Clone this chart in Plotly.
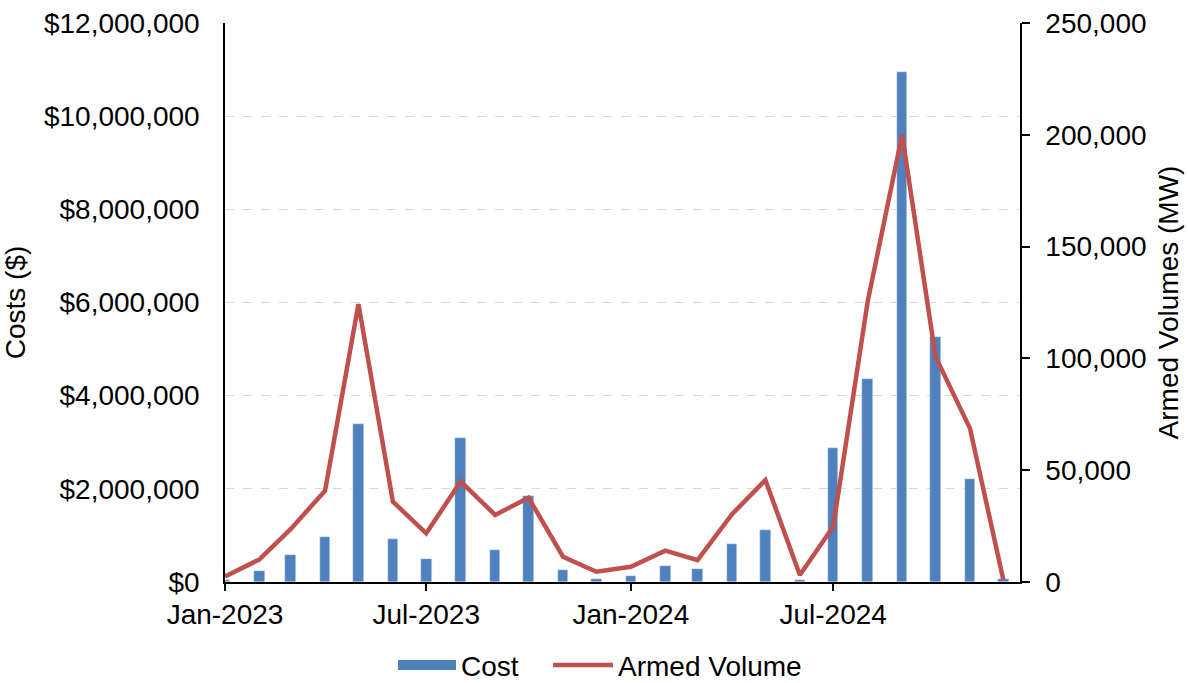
import plotly.graph_objects as go

months = ["2023-01-01","2023-02-01","2023-03-01","2023-04-01","2023-05-01","2023-06-01",
          "2023-07-01","2023-08-01","2023-09-01","2023-10-01","2023-11-01","2023-12-01",
          "2024-01-01","2024-02-01","2024-03-01","2024-04-01","2024-05-01","2024-06-01",
          "2024-07-01","2024-08-01","2024-09-01","2024-10-01","2024-11-01","2024-12-01"]
cost = [40000, 240000, 580000, 960000, 3390000, 920000,
        490000, 3100000, 690000, 1840000, 260000, 70000,
        130000, 340000, 270000, 820000, 1120000, 40000,
        2870000, 4360000, 10950000, 5270000, 2220000, 60000]
armed_volume = [2500, 10100, 23600, 40800, 124300, 35900,
                21800, 44900, 30000, 37700, 11300, 4600,
                6800, 14000, 9800, 30300, 45600, 3100,
                24700, 125400, 200000, 100800, 68700, 1000]

font_family = "Liberation Sans, Arial, sans-serif"
FS = 28
BAR_COLOR = "#4F81BD"
LINE_COLOR = "#C0504D"

fig = go.Figure()
fig.add_trace(go.Bar(x=months, y=cost, name="Cost", marker_color=BAR_COLOR,
                     width=9.5 * 86400000, yaxis="y", showlegend=False))
# legend-only entry giving a wide rectangular swatch for the bars
fig.add_trace(go.Scatter(x=[None], y=[None], name="Cost", mode="lines",
                         line=dict(color=BAR_COLOR, width=14), yaxis="y",
                         legend="legend"))
fig.add_trace(go.Scatter(x=months, y=armed_volume, name="Armed Volume", mode="lines",
                         line=dict(color=LINE_COLOR, width=4.5), yaxis="y2",
                         legend="legend2"))

legend_common = dict(orientation="h", xanchor="left", xref="container",
                     yref="container", y=0.026, yanchor="middle",
                     font=dict(size=FS), bgcolor="rgba(0,0,0,0)")

fig.update_layout(
    width=1188, height=683,
    margin=dict(l=225, r=168, t=23, b=101),
    paper_bgcolor="white", plot_bgcolor="white",
    font=dict(family=font_family, size=FS, color="black"),
    showlegend=True,
    legend=dict(x=0.3308, itemwidth=58, **legend_common),
    legend2=dict(x=0.4613, itemwidth=60, **legend_common),
    xaxis=dict(type="date", range=["2023-01-01", "2024-12-16"],
               tick0="2023-01-01", dtick="M6", tickformat="%b-%Y",
               ticks="outside", ticklen=7, tickcolor="black", tickwidth=1.5,
               showline=True, linecolor="black", linewidth=1.5, automargin=False,
               showgrid=False, zeroline=False, tickfont=dict(size=FS)),
    yaxis=dict(range=[0, 12000000], dtick=2000000, tickprefix="$", tickformat=",.0f",
               showgrid=True, gridcolor="#D9D9D9", griddash="dash", gridwidth=1,
               showline=True, linecolor="black", linewidth=1.5, zeroline=False,
               automargin=False, ticklabelstandoff=18,
               title=dict(text="Costs ($)", font=dict(size=FS), standoff=15),
               ticks="", tickfont=dict(size=FS)),
    yaxis2=dict(range=[0, 250000], dtick=50000, tickformat=",.0f", overlaying="y",
                side="right", showgrid=False, zeroline=False, automargin=False,
                showline=True, linecolor="black", linewidth=1.5,
                ticks="outside", ticklen=8, tickcolor="black", tickwidth=1.5,
                ticklabelstandoff=10,
                title=dict(text="Armed Volumes (MW)", font=dict(size=FS), standoff=13),
                tickfont=dict(size=FS)),
    bargap=0,
)

fig.write_html("out.html", config={"displayModeBar": False},
               post_script="document.body.style.margin='0px';")
